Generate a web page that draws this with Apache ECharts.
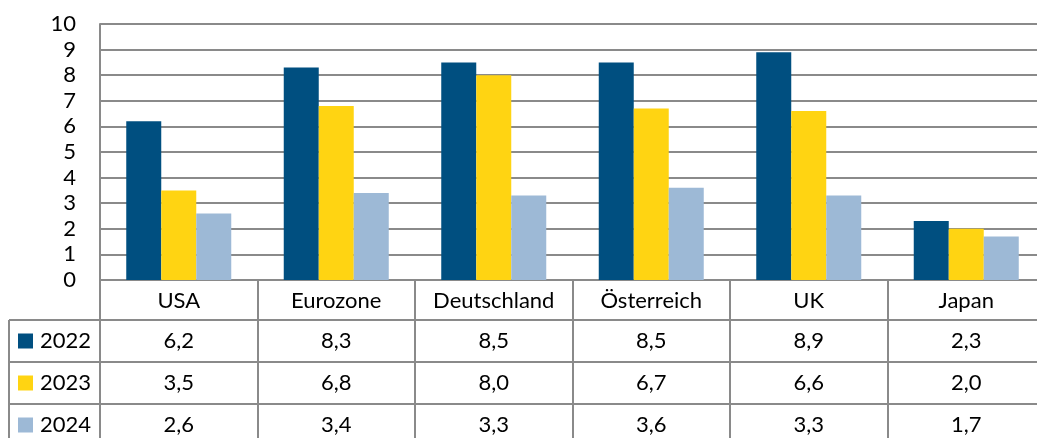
<!DOCTYPE html>
<html>
<head>
<meta charset="utf-8">
<script src="https://cdn.jsdelivr.net/npm/echarts@6/dist/echarts.min.js"></script>
<style>
  html, body { margin: 0; padding: 0; background: #fff; overflow: hidden; }
  #chart { width: 1052px; height: 438px; }
</style>
</head>
<body>
<div id="chart"></div>
<script>
// Daten
var categories = ['USA', 'Eurozone', 'Deutschland', 'Österreich', 'UK', 'Japan'];
var years = ['2022', '2023', '2024'];
var v2022 = [6.2, 8.3, 8.5, 8.5, 8.9, 2.3];
var v2023 = [3.5, 6.8, 8.0, 6.7, 6.6, 2.0];
var v2024 = [2.6, 3.4, 3.3, 3.6, 3.3, 1.7];
var yTicks = [0, 10, 1]; // min, max, interval

var values = [v2022, v2023, v2024];
var colors = ['#004f80', '#ffd412', '#9db9d6'];
var lineColor = '#8a8a8a';
var font = 'Lato, "Open Sans", sans-serif';

// Layout (Diagramm ragt rechts etwas über den sichtbaren Rand hinaus)
var gridLeft = 100, gridTop = 24, gridWidth = 945, axisY = 280;
var rowLines = [320, 362, 404];
var rowMid = [341, 383, 425];
var tableLeft = 9;

var chart = echarts.init(document.getElementById('chart'));

var fmt = function (v) { return v.toFixed(1).replace('.', ','); };

// X-Achsen: Kategorie + je eine Zeile der Datentabelle
var xAxes = [{
  type: 'category',
  data: categories,
  position: 'bottom',
  axisLine: { show: true, lineStyle: { color: lineColor, width: 2 } },
  axisTick: { show: true, interval: 0, length: 170, lineStyle: { color: lineColor, width: 2 } },
  axisLabel: { interval: 0, margin: 21, verticalAlign: 'middle', color: '#000', fontSize: 22, fontFamily: font }
}];
values.forEach(function (vals, i) {
  xAxes.push({
    type: 'category',
    data: categories,
    position: 'bottom',
    axisLine: { show: false },
    axisTick: { show: false },
    axisLabel: {
      interval: 0,
      margin: rowMid[i] - axisY,
      verticalAlign: 'middle',
      color: '#000', fontSize: 22, fontFamily: font,
      formatter: function (v, idx) { return fmt(vals[idx]); }
    }
  });
});

var series = years.map(function (y, i) {
  return {
    name: y,
    type: 'bar',
    data: values[i],
    barWidth: 35,
    barGap: '0%',
    itemStyle: { color: colors[i] }
  };
});

// Legendenspalte und Tabellenlinien
var graphics = [];
rowLines.forEach(function (y) {
  graphics.push({ type: 'line', shape: { x1: tableLeft, y1: y, x2: 1050, y2: y },
    style: { stroke: lineColor, lineWidth: 2 }, z: 10 });
});
graphics.push({ type: 'line', shape: { x1: tableLeft, y1: rowLines[0], x2: tableLeft, y2: 450 },
  style: { stroke: lineColor, lineWidth: 2 }, z: 10 });
years.forEach(function (y, i) {
  graphics.push({ type: 'rect', shape: { x: 18, y: rowMid[i] - 7.5, width: 15, height: 15 },
    style: { fill: colors[i] }, z: 10 });
  graphics.push({ type: 'text', x: 40, y: rowMid[i],
    style: { text: y, fontSize: 22, fontFamily: font, fill: '#000', verticalAlign: 'middle' }, z: 10 });
});

var option = {
  animation: false,
  grid: { left: gridLeft, top: gridTop, width: gridWidth, height: axisY - gridTop },
  xAxis: xAxes,
  yAxis: {
    type: 'value',
    min: yTicks[0],
    max: yTicks[1],
    interval: yTicks[2],
    axisLine: { show: true, lineStyle: { color: lineColor, width: 2 } },
    axisTick: { show: false },
    splitLine: { lineStyle: { color: lineColor, width: 2 } },
    axisLabel: { color: '#000', fontSize: 22, fontFamily: font, margin: 24 }
  },
  series: series,
  graphic: graphics
};

chart.setOption(option);
</script>
</body>
</html>
